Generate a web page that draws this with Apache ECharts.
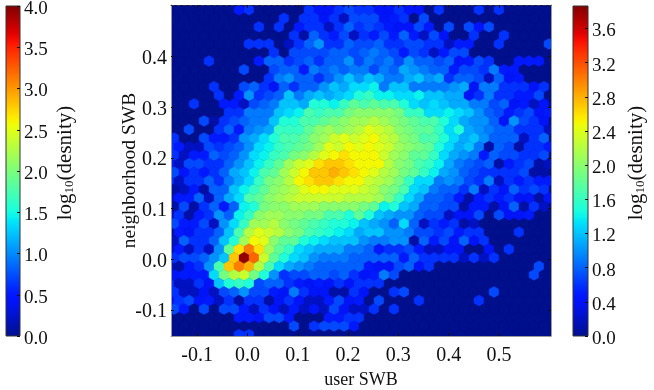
<!DOCTYPE html>
<html>
<head>
<meta charset="utf-8">
<title>user SWB vs neighborhood SWB</title>
<style>
html, body { margin:0; padding:0; background:#fff; }
#chart { width:654px; height:390px; }
</style>
<script src="https://cdn.jsdelivr.net/npm/echarts@6/dist/echarts.min.js"></script>
</head>
<body>
<div id="chart"></div>
<script>
/* Tick labels */
const xTicks = [-0.1, 0, 0.1, 0.2, 0.3, 0.4, 0.5];
const yTicks = [-0.1, 0, 0.1, 0.2, 0.3, 0.4];
const leftBarTicks = [0, 0.5, 1, 1.5, 2, 2.5, 3, 3.5, 4];
const rightBarTicks = [0, 0.4, 0.8, 1.2, 1.6, 2, 2.4, 2.8, 3.2, 3.6];

/* log10(density) x 10 for each hexagon, top row first, left to right */
const logDensityRows = [
    [0,0,0,0,0,0,0,5,6,0,0,0,0,0,6,4,4,6,7,6,6,4,4,6,4,4,0,6,0,0,0,6,0,6,0,0,0,0,0],
    [0,0,0,0,0,0,0,0,0,0,0,6,0,6,6,4,6,2,7,7,7,4,5,6,0,7,0,0,0,0,0,0,0,0,0,0,0,0,0],
    [0,0,0,0,0,0,0,0,0,6,0,6,0,5,6,6,2,6,8,6,7,6,5,4,4,7,5,0,7,0,7,4,7,0,0,0,0,0,0],
    [0,0,0,0,0,0,0,0,0,0,0,0,6,1,8,6,5,7,2,6,5,7,5,8,5,2,7,4,0,0,6,0,0,6,0,0,0,0,0],
    [0,0,0,0,0,0,0,0,6,6,6,0,2,6,8,10,6,6,8,7,7,8,6,6,7,7,6,6,2,5,5,0,0,6,0,0,0,0,7],
    [0,0,0,0,0,0,0,0,0,0,6,0,7,7,7,7,8,8,7,8,9,8,7,5,7,6,2,5,7,7,0,0,0,0,0,0,0,0,0],
    [0,0,0,0,6,0,0,0,0,5,8,8,6,7,8,6,8,8,10,7,9,8,9,7,10,8,8,7,8,4,5,7,6,0,0,5,5,5,0],
    [0,0,0,0,0,0,0,7,0,0,7,8,8,5,9,8,9,8,9,9,7,9,8,11,10,9,8,8,5,7,7,6,9,5,5,0,0,0,0],
    [0,0,0,0,0,0,0,0,0,0,6,9,10,8,8,6,8,10,12,10,12,11,9,9,11,12,10,11,6,8,8,7,2,8,4,5,0,0,0],
    [0,0,0,0,6,0,0,7,8,6,4,8,6,8,8,10,12,11,13,13,14,9,12,12,9,9,9,9,10,11,4,9,9,6,6,6,4,6,0],
    [0,0,0,0,0,6,0,5,10,6,7,8,12,9,11,12,11,12,13,15,16,14,14,13,13,14,12,12,11,11,4,6,9,6,6,5,5,7,0],
    [0,0,6,0,0,5,5,2,7,8,9,12,12,11,15,15,14,16,18,17,18,17,17,15,13,12,13,12,11,11,9,9,7,8,4,5,2,4,0],
    [0,0,0,0,0,0,6,6,9,9,9,12,13,14,17,16,17,17,19,20,20,20,20,19,16,16,13,13,14,13,12,10,8,7,5,6,7,4,5],
    [0,0,0,7,1,6,7,8,9,9,12,15,15,17,17,18,19,20,21,21,22,21,20,19,18,17,17,15,13,11,10,10,8,4,10,7,6,4,0],
    [0,0,7,0,0,6,8,5,9,10,11,16,16,16,18,20,21,20,21,22,24,23,22,20,19,18,18,16,13,15,11,10,9,8,8,6,6,6,2],
    [6,0,0,7,5,5,6,10,11,13,15,17,17,18,20,21,23,24,23,24,25,23,22,20,19,17,17,15,13,11,12,10,8,8,8,2,6,8,0],
    [6,5,2,2,7,6,7,8,10,13,14,16,17,18,19,21,24,23,25,24,25,24,23,21,20,19,18,15,13,11,12,9,1,8,7,1,6,6,5],
    [6,2,5,5,8,7,8,10,13,14,16,17,19,20,22,24,25,26,25,25,25,23,21,20,18,18,16,13,11,10,9,5,8,7,7,6,6,7,0],
    [5,2,7,7,6,6,8,10,12,14,16,18,21,23,24,26,27,27,26,25,25,25,22,20,19,17,16,14,11,9,8,7,8,1,5,6,7,1,2],
    [7,4,6,5,6,8,11,12,14,17,18,21,23,25,27,27,28,27,26,25,24,22,21,19,18,16,14,11,10,8,7,6,6,6,6,7,1,1,0],
    [6,2,6,6,8,6,9,11,13,16,19,20,22,25,26,27,27,26,25,25,23,22,21,19,16,13,13,9,10,9,7,6,9,2,6,5,6,5,5],
    [1,2,5,1,8,8,12,14,16,18,20,21,22,24,25,25,24,24,24,23,22,20,19,17,13,12,9,8,8,6,9,2,6,4,8,6,7,6,0],
    [2,5,5,8,2,8,11,13,17,18,20,21,22,23,23,23,23,23,22,22,22,21,19,16,13,11,8,8,7,5,1,5,6,5,6,4,4,1,4],
    [1,7,1,6,8,5,8,14,15,19,20,20,21,21,21,20,20,20,20,19,18,14,15,12,11,8,8,7,7,1,5,5,1,4,8,1,6,2,0],
    [2,6,1,5,6,10,8,14,16,20,21,21,20,20,19,19,17,17,15,18,15,12,11,10,10,8,7,7,2,4,4,7,0,7,4,4,5,0,0],
    [7,5,5,7,2,10,13,16,21,21,22,20,19,18,17,16,15,15,14,12,11,10,8,13,8,2,6,5,6,1,2,0,0,0,0,0,0,0,0],
    [0,5,4,6,6,8,12,17,22,24,23,22,20,19,17,16,15,14,13,11,12,12,10,10,9,7,7,6,7,5,6,6,0,0,0,6,0,0,0],
    [2,8,6,6,8,12,15,21,25,24,20,18,18,15,14,13,12,12,12,10,9,9,10,10,1,8,5,7,4,8,4,6,0,0,0,0,0,0,0],
    [2,5,2,6,2,10,18,26,30,26,21,18,16,13,12,11,11,11,9,9,8,5,6,6,7,5,2,2,4,4,0,0,4,0,6,0,0,0,0],
    [6,7,7,8,10,12,27,38,31,23,18,15,13,12,10,9,9,9,8,8,8,8,8,5,8,6,6,6,6,2,6,2,6,0,0,0,0,0,0],
    [2,1,5,6,10,17,27,30,28,22,17,13,11,10,9,8,8,8,8,8,5,4,4,7,8,4,6,0,0,0,0,0,0,0,0,0,0,7,0],
    [4,5,5,5,13,19,22,23,19,15,10,6,7,7,8,8,7,8,6,4,5,9,7,0,0,0,0,0,0,0,0,0,0,0,0,0,7,0,0],
    [6,2,2,6,4,12,15,16,15,7,8,8,6,5,4,5,4,6,4,6,6,6,0,0,0,0,0,0,0,0,0,0,0,0,0,0,0,0,0],
    [6,2,2,4,2,7,8,10,7,7,5,4,9,6,4,4,1,1,6,4,0,0,6,7,0,0,0,0,0,0,0,0,7,0,0,0,0,0,0],
    [4,6,7,4,5,2,6,1,6,6,1,4,6,4,2,2,5,7,4,5,0,7,0,0,0,6,0,0,0,0,0,6,0,0,0,0,0,0,0],
    [7,5,0,7,0,7,7,5,2,6,4,2,5,2,4,2,7,4,2,2,6,0,6,0,0,0,0,0,0,0,0,0,0,0,0,0,0,0,0],
    [0,0,0,0,0,0,0,5,5,4,7,7,5,0,0,0,5,5,6,6,0,0,0,0,0,0,0,0,0,0,0,0,0,0,0,0,0,0,0],
    [0,0,0,0,0,0,0,0,0,0,0,0,7,0,6,7,7,7,5,0,0,0,0,0,0,0,0,0,0,0,0,0,0,0,0,0,0,0,0],
    [0,0,0,0,0,0,0,6,6,0,0,0,0,0,0,0,0,0,0,0,0,0,0,0,0,0,0,0,0,0,0,0,0,0,0,0,0,0,0]
];

/* Hexagon grid in data units */
const hexStepX = 0.01988;
const hexStepY = 0.01688;
const topRowY = 0.4921;
const oddRowStartX = -0.1559;
const evenRowStartX = -0.1459;

/* Largest value on each colour bar */
const hexMax = 3.863;
const leftBarMax = 4;
const rightBarMax = 3.863;

const fontName = "Liberation Serif";

/* Jet colour map, low end lifted a little to match the picture */
function segment(t, points){

    for(let i = 1; i < points.length; i++){

        if(t <= points[i][0]){

            const a = points[i - 1];
            const b = points[i];

            return a[1] + (b[1] - a[1]) * (t - a[0]) / (b[0] - a[0]);
        }
    }

    return points[points.length - 1][1];
}

function jet(t){

    t = Math.max(0, Math.min(1, t));

    const r = segment(t, [[0,0],[0.35,0],[0.66,1],[0.89,1],[1,0.5]]);
    const g = segment(t, [[0,0.06],[0.125,0.08],[0.375,1],[0.64,1],[0.91,0],[1,0]]);
    const b = segment(t, [[0,0.55],[0.11,1],[0.34,1],[0.65,0],[1,0]]);

    return `rgb(${Math.round(r * 255)},${Math.round(g * 255)},${Math.round(b * 255)})`;
}

/* Hexagon list for the series */
const hexData = [];

logDensityRows.forEach((row, rowIndex) => {

    /* Top row is odd, rows alternate downward */
    const startX = rowIndex % 2 === 0 ? oddRowStartX : evenRowStartX;

    row.forEach((value, i) => {

        hexData.push([
            startX + i * hexStepX,
            topRowY - rowIndex * hexStepY,
            value / 10
        ]);
    });
});

function renderHex(params, api){

    const center = api.coord([api.value(0), api.value(1)]);
    const w = api.size([hexStepX, 0])[0] / 2;
    const r = api.size([0, hexStepY])[1] * 2 / 3;
    const color = jet(api.value(2) / hexMax);

    return {
        type: "polygon",
        shape: {
            points: [
                [center[0], center[1] - r],
                [center[0] + w, center[1] - r / 2],
                [center[0] + w, center[1] + r / 2],
                [center[0], center[1] + r],
                [center[0] - w, center[1] + r / 2],
                [center[0] - w, center[1] - r / 2]
            ]
        },
        style: { fill: color, stroke: color, lineWidth: 0.4 }
    };
}

/* Colour bar as one gradient rectangle */
function renderBar(barMax){

    const stops = [];

    for(let i = 0; i <= 60; i++){

        stops.push({ offset: i / 60, color: jet(i / 60) });
    }

    return function(params, api){

        const top = api.coord([0, barMax]);
        const bottom = api.coord([1, 0]);

        return {
            type: "rect",
            shape: {
                x: top[0],
                y: top[1],
                width: bottom[0] - top[0],
                height: bottom[1] - top[1]
            },
            style: {
                fill: new echarts.graphic.LinearGradient(0, 1, 0, 0, stops),
                stroke: "#333",
                lineWidth: 1
            }
        };
    };
}

const formatTick = value => value.toFixed(1);

/* y labels sit a little below their ticks, rich padding pushes them down */
const formatRichTick = value => `{v|${value.toFixed(1)}}`;

function richLabel(fontSize, paddingTop){

    return {
        v: {
            fontFamily: fontName,
            fontSize,
            color: "#111",
            padding: [paddingTop, 0, 0, 0]
        }
    };
}

/* Main plot axes */
function mainAxis(extra){

    return Object.assign({
        type: "value",
        gridIndex: 0,
        z: 5,
        splitLine: { show: false },
        axisLine: { onZero: false, lineStyle: { color: "#999", width: 1 } }
    }, extra);
}

function hiddenBarX(gridIndex){

    return {
        type: "value",
        gridIndex,
        min: 0,
        max: 1,
        show: false
    };
}

function barY(gridIndex, barMax, ticks, nameGap){

    return {
        type: "value",
        gridIndex,
        position: "right",
        min: 0,
        max: barMax,
        z: 5,
        splitLine: { show: false },
        axisLine: { show: false, onZero: false },
        axisTick: {
            inside: true,
            length: 3,
            customValues: ticks,
            lineStyle: { color: "#111" }
        },
        axisLabel: {
            customValues: ticks,
            formatter: formatRichTick,
            margin: 4,
            fontFamily: fontName,
            fontSize: 19,
            color: "#111",
            rich: richLabel(19, 6)
        },
        name: "log{sub|10}(desnity)",
        nameLocation: "middle",
        nameRotate: 90,
        nameGap,
        nameTextStyle: {
            fontFamily: fontName,
            fontSize: 21,
            color: "#111",
            padding: [0, 0, 0, 16],
            rich: {
                sub: {
                    fontFamily: fontName,
                    fontSize: 13,
                    color: "#111",
                    verticalAlign: "bottom"
                }
            }
        }
    };
}

const chart = echarts.init(document.getElementById("chart"), null, { renderer: "canvas" });

chart.setOption({

    animation: false,

    backgroundColor: "#fff",

    grid: [
        { left: 171, top: 5, width: 380, height: 331, outerBoundsMode: "none", backgroundColor: jet(0), show: true, borderWidth: 0 },
        { left: 6, top: 6, width: 14, height: 330, outerBoundsMode: "none" },
        { left: 573, top: 6, width: 15, height: 330, outerBoundsMode: "none" }
    ],

    xAxis: [
        mainAxis({
            position: "bottom",
            min: -0.152,
            max: 0.6035,
            axisTick: { inside: true, length: 3, customValues: xTicks, lineStyle: { color: "#111" } },
            axisLabel: {
                customValues: xTicks,
                formatter: formatTick,
                margin: 10,
                fontFamily: fontName,
                fontSize: 20,
                color: "#111"
            },
            name: "user SWB",
            nameLocation: "middle",
            nameGap: 34,
            nameTextStyle: { fontFamily: fontName, fontSize: 18, color: "#111" }
        }),
        mainAxis({
            position: "top",
            min: -0.152,
            max: 0.6035,
            axisLine: { onZero: false, lineStyle: { color: "#333", width: 1, type: [3, 3] } },
            axisTick: { inside: true, length: 3, customValues: xTicks, lineStyle: { color: "#111" } },
            axisLabel: { show: false }
        }),
        hiddenBarX(1),
        hiddenBarX(2)
    ],

    yAxis: [
        mainAxis({
            position: "left",
            min: -0.1514,
            max: 0.502,
            axisTick: { inside: true, length: 3, customValues: yTicks, lineStyle: { color: "#111" } },
            axisLabel: {
                customValues: yTicks,
                formatter: formatRichTick,
                margin: 4,
                fontFamily: fontName,
                fontSize: 20,
                color: "#111",
                rich: richLabel(20, 4)
            },
            name: "neighborhood SWB",
            nameLocation: "middle",
            nameRotate: 90,
            nameGap: 31,
            nameMoveOverlap: false,
            nameTextStyle: { fontFamily: fontName, fontSize: 19.5, color: "#111" }
        }),
        mainAxis({
            position: "right",
            min: -0.1514,
            max: 0.502,
            axisTick: { inside: true, length: 3, customValues: yTicks, lineStyle: { color: "#111" } },
            axisLabel: { show: false }
        }),
        barY(1, leftBarMax, leftBarTicks, 35),
        barY(2, rightBarMax, rightBarTicks, 38)
    ],

    series: [
        {
            type: "custom",
            xAxisIndex: 0,
            yAxisIndex: 0,
            clip: true,
            renderItem: renderHex,
            data: hexData,
            encode: { x: 0, y: 1 }
        },
        {
            type: "custom",
            xAxisIndex: 2,
            yAxisIndex: 2,
            renderItem: renderBar(leftBarMax),
            data: [[0, 0]]
        },
        {
            type: "custom",
            xAxisIndex: 3,
            yAxisIndex: 3,
            renderItem: renderBar(rightBarMax),
            data: [[0, 0]]
        }
    ]
});
</script>
</body>
</html>
